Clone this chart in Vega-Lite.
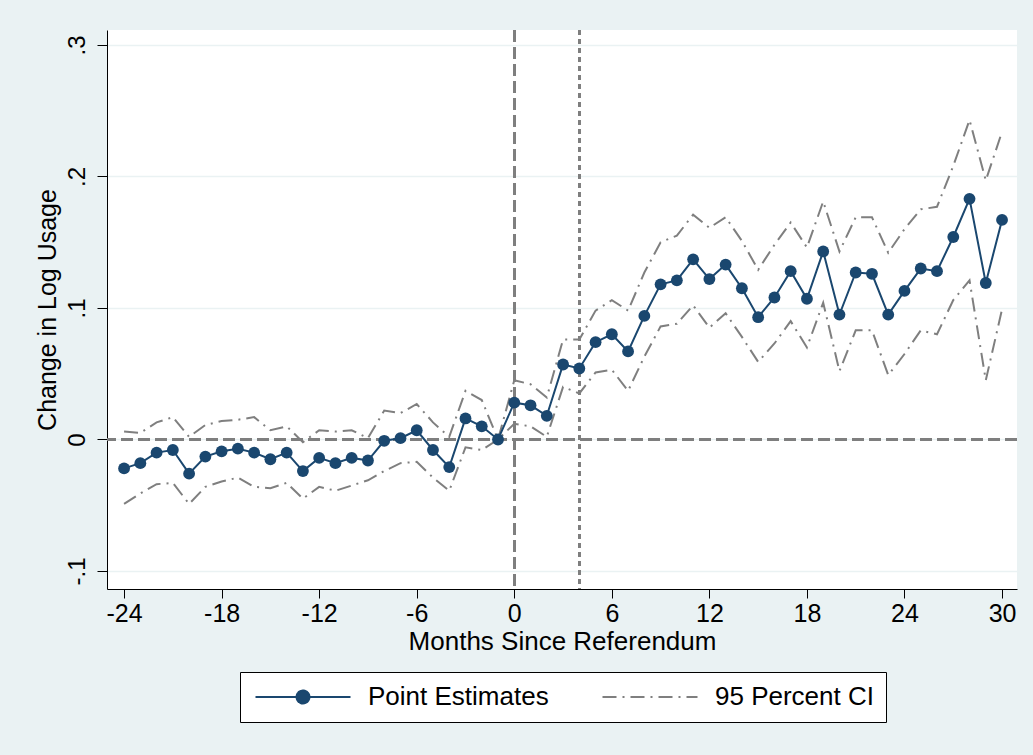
{
 "$schema": "https://vega.github.io/schema/vega-lite/v6.json",
 "width": 910,
 "height": 559,
 "autosize": {"type": "none"},
 "padding": {"left": 107, "top": 30, "right": 16, "bottom": 166},
 "background": "#EAF2F3",
 "config": {"view": {"fill": "white", "stroke": null}, "font": "Liberation Sans"},
 "data": {"values": [
  {"m": -24, "est": -0.022, "lo": -0.049, "hi": 0.006},
  {"m": -23, "est": -0.018, "lo": -0.041, "hi": 0.005},
  {"m": -22, "est": -0.010, "lo": -0.034, "hi": 0.013},
  {"m": -21, "est": -0.008, "lo": -0.033, "hi": 0.017},
  {"m": -20, "est": -0.026, "lo": -0.049, "hi": 0.002},
  {"m": -19, "est": -0.013, "lo": -0.036, "hi": 0.011},
  {"m": -18, "est": -0.009, "lo": -0.032, "hi": 0.014},
  {"m": -17, "est": -0.007, "lo": -0.029, "hi": 0.015},
  {"m": -16, "est": -0.010, "lo": -0.036, "hi": 0.017},
  {"m": -15, "est": -0.015, "lo": -0.037, "hi": 0.007},
  {"m": -14, "est": -0.010, "lo": -0.033, "hi": 0.010},
  {"m": -13, "est": -0.024, "lo": -0.045, "hi": -0.002},
  {"m": -12, "est": -0.014, "lo": -0.036, "hi": 0.007},
  {"m": -11, "est": -0.018, "lo": -0.039, "hi": 0.006},
  {"m": -10, "est": -0.014, "lo": -0.035, "hi": 0.007},
  {"m": -9, "est": -0.016, "lo": -0.031, "hi": 0.001},
  {"m": -8, "est": -0.001, "lo": -0.024, "hi": 0.022},
  {"m": -7, "est": 0.001, "lo": -0.018, "hi": 0.020},
  {"m": -6, "est": 0.007, "lo": -0.017, "hi": 0.027},
  {"m": -5, "est": -0.008, "lo": -0.029, "hi": 0.013},
  {"m": -4, "est": -0.021, "lo": -0.039, "hi": 0.002},
  {"m": -3, "est": 0.016, "lo": -0.006, "hi": 0.037},
  {"m": -2, "est": 0.010, "lo": -0.008, "hi": 0.030},
  {"m": -1, "est": 0.000, "lo": 0.000, "hi": 0.000},
  {"m": 0, "est": 0.028, "lo": 0.012, "hi": 0.045},
  {"m": 1, "est": 0.026, "lo": 0.010, "hi": 0.042},
  {"m": 2, "est": 0.018, "lo": 0.002, "hi": 0.032},
  {"m": 3, "est": 0.057, "lo": 0.040, "hi": 0.076},
  {"m": 4, "est": 0.054, "lo": 0.035, "hi": 0.076},
  {"m": 5, "est": 0.074, "lo": 0.051, "hi": 0.098},
  {"m": 6, "est": 0.080, "lo": 0.053, "hi": 0.106},
  {"m": 7, "est": 0.067, "lo": 0.037, "hi": 0.098},
  {"m": 8, "est": 0.094, "lo": 0.063, "hi": 0.127},
  {"m": 9, "est": 0.118, "lo": 0.086, "hi": 0.150},
  {"m": 10, "est": 0.121, "lo": 0.088, "hi": 0.155},
  {"m": 11, "est": 0.137, "lo": 0.102, "hi": 0.171},
  {"m": 12, "est": 0.122, "lo": 0.085, "hi": 0.161},
  {"m": 13, "est": 0.133, "lo": 0.096, "hi": 0.169},
  {"m": 14, "est": 0.115, "lo": 0.078, "hi": 0.151},
  {"m": 15, "est": 0.093, "lo": 0.059, "hi": 0.129},
  {"m": 16, "est": 0.108, "lo": 0.073, "hi": 0.148},
  {"m": 17, "est": 0.128, "lo": 0.090, "hi": 0.165},
  {"m": 18, "est": 0.107, "lo": 0.070, "hi": 0.146},
  {"m": 19, "est": 0.143, "lo": 0.104, "hi": 0.181},
  {"m": 20, "est": 0.095, "lo": 0.052, "hi": 0.143},
  {"m": 21, "est": 0.127, "lo": 0.083, "hi": 0.169},
  {"m": 22, "est": 0.126, "lo": 0.083, "hi": 0.169},
  {"m": 23, "est": 0.095, "lo": 0.049, "hi": 0.142},
  {"m": 24, "est": 0.113, "lo": 0.065, "hi": 0.160},
  {"m": 25, "est": 0.130, "lo": 0.083, "hi": 0.175},
  {"m": 26, "est": 0.128, "lo": 0.080, "hi": 0.177},
  {"m": 27, "est": 0.154, "lo": 0.106, "hi": 0.208},
  {"m": 28, "est": 0.183, "lo": 0.121, "hi": 0.243},
  {"m": 29, "est": 0.119, "lo": 0.045, "hi": 0.197},
  {"m": 30, "est": 0.167, "lo": 0.099, "hi": 0.234}
 ]},
 "layer": [
  {
   "mark": {"type": "line", "color": "#7f7f7f", "strokeWidth": 2, "strokeDash": [14, 6, 2, 6]},
   "encoding": {
    "x": {"field": "m", "type": "quantitative",
     "scale": {"domain": [-25.05, 30.92], "nice": false, "zero": false},
     "axis": {"values": [-24, -18, -12, -6, 0, 6, 12, 18, 24, 30], "title": "Months Since Referendum",
      "labelExpr": "'' + datum.value",
      "grid": false, "domainColor": "black", "domainWidth": 1, "tickColor": "black", "tickWidth": 1, "tickSize": 9,
      "labelFontSize": 25, "labelColor": "black", "labelPadding": 3, "labelFlush": false, "labelOverlap": false,
      "titleFontSize": 26, "titleFontWeight": "normal", "titleColor": "black", "titlePadding": 2}},
    "y": {"field": "hi", "type": "quantitative",
     "scale": {"domain": [-0.1137, 0.3114], "nice": false, "zero": false},
     "axis": {"values": [-0.1, 0, 0.1, 0.2, 0.3], "title": "Change in Log Usage",
      "labelExpr": "datum.value == 0 ? '0' : replace('' + datum.value, '0.', '.')",
      "grid": true, "gridColor": "#EAF2F3", "gridWidth": 1.5,
      "domainColor": "black", "domainWidth": 1, "tickColor": "black", "tickWidth": 1, "tickSize": 10,
      "labelFontSize": 24, "labelColor": "black", "labelAngle": -90, "labelAlign": "center", "labelBaseline": "bottom", "labelPadding": 8,
      "labelFlush": false, "labelOverlap": false,
      "titleFontSize": 25, "titleFontWeight": "normal", "titleColor": "black", "titlePadding": 5}},
    "color": {"datum": "95 Percent CI", "type": "nominal",
     "scale": {"domain": ["Point Estimates", "95 Percent CI"], "range": ["#1a476f", "#7f7f7f"]},
     "legend": {"title": null, "orient": "none", "legendX": 133, "legendY": 642, "direction": "horizontal", "columns": 2,
      "strokeColor": "black", "fillColor": "white", "padding": 12, "symbolSize": 361, "symbolStrokeWidth": 2,
      "labelFontSize": 26, "labelColor": "black", "labelFont": "Liberation Sans", "labelOffset": 90, "labelLimit": 0, "columnPadding": 49,
      "encode": {"symbols": {"update": {
       "shape": {"signal": "datum.value === 'Point Estimates' ? 'M-1,0L9,0M4.68,0A0.68,0.68,0,1,1,3.32,0A0.68,0.68,0,1,1,4.68,0' : 'M-1,0L9,0'"},
       "strokeDash": {"signal": "datum.value === 'Point Estimates' ? [1,0] : [14,6,2,6]"},
       "fill": {"signal": "datum.value === 'Point Estimates' ? '#1a476f' : 'transparent'"},
       "stroke": {"signal": "datum.value === 'Point Estimates' ? '#1a476f' : '#7f7f7f'"},
       "strokeWidth": {"value": 2},
       "opacity": {"value": 1}
      }}}}}
   }
  },
  {
   "mark": {"type": "line", "color": "#7f7f7f", "strokeWidth": 2, "strokeDash": [14, 6, 2, 6]},
   "encoding": {
    "x": {"field": "m", "type": "quantitative"},
    "y": {"field": "lo", "type": "quantitative"},
    "color": {"datum": "95 Percent CI", "type": "nominal"}
   }
  },
  {
   "mark": {"type": "rule", "color": "#7f7f7f", "strokeWidth": 2, "strokeDash": [12, 5]},
   "encoding": {"y": {"datum": 0, "type": "quantitative"}}
  },
  {
   "mark": {"type": "rule", "color": "#7f7f7f", "strokeWidth": 2, "strokeDash": [12, 5]},
   "encoding": {"x": {"datum": 0, "type": "quantitative"}}
  },
  {
   "mark": {"type": "rule", "color": "#7f7f7f", "strokeWidth": 2, "strokeDash": [5, 4]},
   "encoding": {"x": {"datum": 4, "type": "quantitative"}}
  },
  {
   "mark": {"type": "line", "strokeWidth": 2},
   "encoding": {
    "x": {"field": "m", "type": "quantitative"},
    "y": {"field": "est", "type": "quantitative"},
    "color": {"datum": "Point Estimates", "type": "nominal"}
   }
  },
  {
   "mark": {"type": "point", "filled": true, "color": "#1a476f", "size": 140, "opacity": 1},
   "encoding": {
    "x": {"field": "m", "type": "quantitative"},
    "y": {"field": "est", "type": "quantitative"}
   }
  }
 ]
}
